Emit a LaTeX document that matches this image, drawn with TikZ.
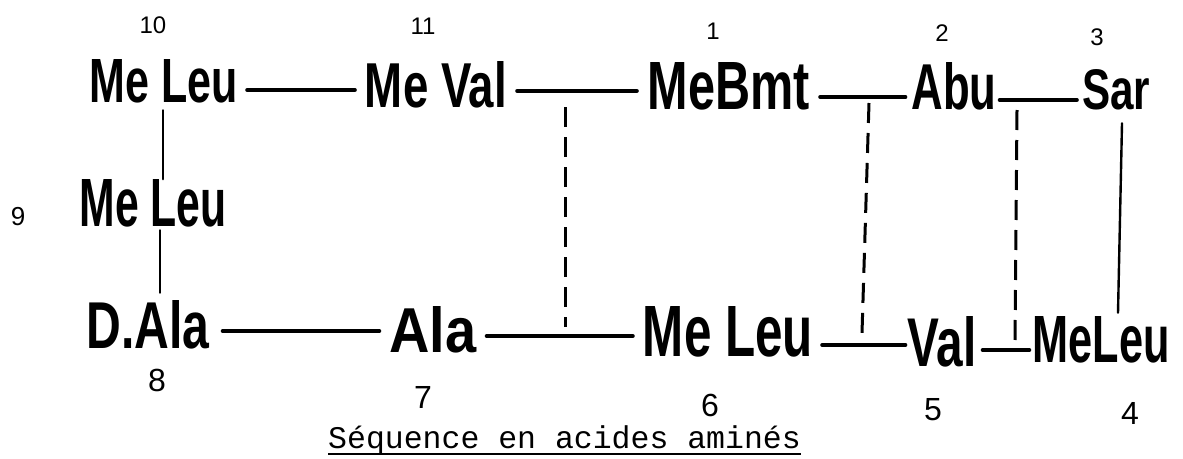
\documentclass[tikz,border=0pt]{standalone}
\usepackage{fontspec}
\setmainfont{Liberation Sans}
\newfontfamily\hwfam{Liberation Sans}
\newfontfamily\capfam{Liberation Mono}
\usetikzlibrary{calc}
\newcommand\hw[3]{\resizebox{#1pt}{#2pt}{\hwfam\bfseries #3}}
\begin{document}
\begin{tikzpicture}[x=1pt,y=-1pt,
  lab/.style={inner sep=0pt, outer sep=0pt},
  bond/.style={line width=3.6pt, line cap=round},
  rung/.style={line width=2.4pt, line cap=round},
  hbond/.style={line width=3pt, dash pattern=on 20pt off 10pt},
  numtop/.style={inner sep=0pt, font=\fontsize{24}{24}\selectfont},
  numbot/.style={inner sep=0pt, font=\fontsize{32}{32}\selectfont}]
\useasboundingbox (0,0) rectangle (1183,458);
% top row
\node[lab] (n10) at (164,81.5) {\hw{148}{43}{Me Leu}};
\node[lab] (n11) at (436,85) {\hw{142}{46}{Me Val}};
\node[lab] (n1) at (729,86) {\hw{162}{47}{MeBmt}};
\node[lab] (n2) at (954,86) {\hw{85}{47}{Abu}};
\node[lab] (n3) at (1116,90) {\hw{68}{40}{Sar}};
% middle
\node[lab] (n9) at (153,203) {\hw{147}{47}{Me Leu}};
% bottom row
\node[lab] (n8) at (148,325) {\hw{123}{48}{D.Ala}};
\node[lab] (n7) at (433,330) {\hw{87}{46}{Ala}};
\node[lab] (n6) at (728,332) {\hw{170}{50}{Me Leu}};
\node[lab] (n5) at (942,342) {\hw{69}{50}{Val}};
\node[lab] (n4) at (1101,340) {\hw{137}{46}{MeLeu}};
% numbers
\node[numtop] (k10) at (153,25) {10};
\node[numtop] (k11) at (423,26) {11};
\node[numtop] (k1) at (713,31) {1};
\node[numtop] (k2) at (942,33) {2};
\node[numtop] (k3) at (1097,37) {3};
\node[numtop, font=\fontsize{26}{26}\selectfont] (k9) at (18,217) {9};
\node[numbot] (k8) at (157,380) {8};
\node[numbot] (k7) at (423,397) {7};
\node[numbot] (k6) at (710,405) {6};
\node[numbot] (k5) at (933,410) {5};
\node[numbot] (k4) at (1130,413) {4};
% peptide bonds
\draw[bond] ($(n10.east)+(9,8.5)$) -- ($(n11.west)+(-10,5)$);
\draw[bond] ($(n11.east)+(10,6)$) -- ($(n1.west)+(-11,5)$);
\draw[bond] ($(n1.east)+(10,11)$) -- ($(n2.west)+(-6,11)$);
\draw[bond] ($(n2.east)+(3,14)$) -- ($(n3.west)+(-5,10)$);
\draw[bond] ($(n8.east)+(13,6)$) -- ($(n7.west)+(-10,1)$);
\draw[bond] ($(n7.east)+(10,6)$) -- ($(n6.west)+(-10,4)$);
\draw[bond] ($(n6.east)+(9,13)$) -- ($(n5.west)+(-2,3)$);
\draw[bond] ($(n5.east)+(6,8)$) -- ($(n4.west)+(-3,10)$);
% vertical bonds
\draw[rung] ($(n10.south)+(-1,7)$) -- ($(n9.north)+(10,0)$);
\draw[rung] ($(n9.south)+(7,3.5)$) -- ($(n8.north)+(12,-8)$);
\draw[rung] ($(n3.south)+(6,13)$) -- ($(n4.north)+(17,-4)$);
% hydrogen bonds
\coordinate (d1t) at (565,107);
\coordinate (d1b) at (565,327);
\coordinate (d2t) at (869,103);
\coordinate (d2b) at (862,333);
\coordinate (d3t) at (1017,110);
\coordinate (d3b) at (1015,347);
\draw[hbond] (d1t) -- (d1b);
\draw[hbond] (d2t) -- (d2b);
\draw[hbond] (d3t) -- (d3b);
% caption
\node[inner sep=0pt, anchor=base west, font=\capfam\fontsize{31.5}{31.5}\selectfont] (cap) at (328,448) {Séquence en acides aminés};
\draw[line width=1.6pt] ($(cap.base west)+(0,6)$) -- ($(cap.base east)+(0,6)$);
\end{tikzpicture}
\end{document}
